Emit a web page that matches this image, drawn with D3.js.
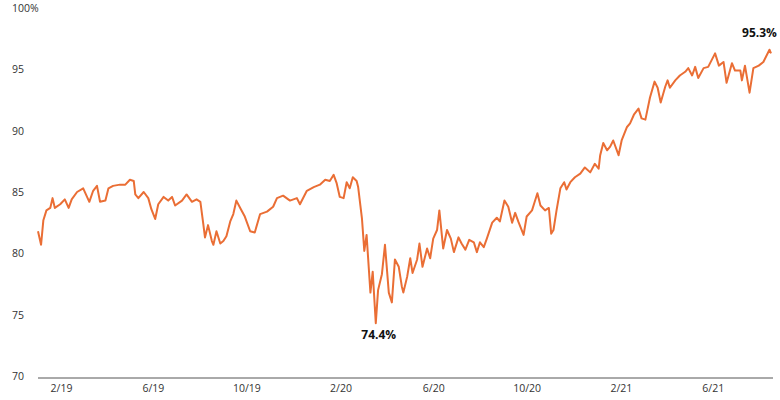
<!DOCTYPE html>
<html>
<head>
<meta charset="utf-8">
<script src="https://cdn.jsdelivr.net/npm/d3@7"></script>
<style>
  body { margin: 0; background: #fff; }
  text { font-family: "Open Sans", "Noto Sans", sans-serif; }
</style>
</head>
<body>
<div id="chart"></div>
<script>
// days since 2019-01-02, and share value (%)
const dayOffsets = [0,4,7,11,16,19,22,29,35,40,44,51,59,67,72,77,81,88,92,98,107,114,120,125,127,131,138,144,148,153,157,164,170,175,179,188,194,201,207,212,216,218,222,227,229,233,238,242,246,251,255,259,264,270,277,283,290,299,307,312,320,329,338,342,351,360,368,375,381,386,390,394,399,403,407,411,416,418,423,426,429,434,437,441,444,449,453,458,462,466,471,475,477,482,486,489,495,498,502,508,512,516,521,524,529,534,539,543,549,553,558,563,569,573,577,582,586,593,599,603,609,614,619,623,627,634,638,645,648,652,656,662,667,670,673,677,682,687,690,695,701,708,714,721,727,732,734,738,743,747,751,758,762,769,773,778,784,788,793,799,805,809,813,819,822,825,832,838,845,849,854,858,862,869,875,884,889,895,899,906,910,917,919,923,929,934,941,947,955,957];
const values = [81.8,80.7,82.7,83.5,83.7,84.5,83.7,84.0,84.4,83.7,84.4,85.0,85.3,84.2,85.1,85.5,84.2,84.3,85.3,85.5,85.6,85.6,86.0,85.9,84.8,84.5,85.0,84.5,83.6,82.8,84.0,84.6,84.3,84.6,83.9,84.3,84.8,84.2,84.4,84.2,82.3,81.3,82.3,81.0,80.7,81.8,80.8,81.0,81.4,82.6,83.2,84.3,83.7,83.0,81.8,81.7,83.2,83.4,83.8,84.5,84.7,84.3,84.5,84.0,85.1,85.4,85.6,86.0,85.9,86.4,85.7,84.6,84.5,85.8,85.3,86.2,85.9,85.4,82.8,80.2,81.5,76.8,78.5,74.3,77.0,78.3,80.7,76.8,76.0,79.5,78.9,77.3,76.8,78.1,79.6,78.4,79.5,80.8,78.9,80.4,79.6,81.2,81.9,83.5,80.4,81.9,81.2,80.1,81.3,80.8,80.3,81.1,80.9,80.1,80.9,80.5,81.2,82.5,82.9,82.6,84.3,83.8,82.5,83.3,82.6,81.5,83.0,83.5,84.1,84.9,83.9,83.5,83.7,81.6,81.9,83.5,85.3,85.8,85.2,85.8,86.2,86.5,87.0,86.6,87.3,86.9,88.0,89.0,88.4,88.7,89.2,88.0,89.2,90.3,90.6,91.3,91.8,91.0,90.9,92.7,94.0,93.5,92.3,93.6,94.1,93.5,94.1,94.5,94.8,95.1,94.5,95.2,94.3,95.1,95.2,96.3,95.3,95.6,93.9,95.5,94.9,94.9,94.1,95.3,93.1,95.1,95.3,95.6,96.6,96.3];
const yTicks = [70, 75, 80, 85, 90, 95, 100];
const xTickMonths = ["2019-02-01","2019-06-01","2019-10-01","2020-02-01","2020-06-01","2020-10-01","2021-02-01","2021-06-01"];
const notes = [{ label: "74.4%", day: 441, value: 74.3 }, { label: "95.3%", day: 955, value: 96.6 }];

const W = 780, H = 400;
const start = new Date(2019, 0, 2);
const toDate = d => d3.timeDay.offset(start, d);
const data = dayOffsets.map((d, i) => ({ date: toDate(d), v: values[i] }));

const svg = d3.select("#chart").append("svg").attr("width", W).attr("height", H);

const x = d3.scaleTime().domain([start, toDate(957)]).range([38, 771]);
const y = d3.scaleLinear().domain([70, 100]).range([376, 8]);

// y labels, no axis line
svg.selectAll(".ylab").data(yTicks).enter().append("text")
  .attr("x", 12).attr("y", d => y(d) + 4)
  .attr("font-size", 10.5).attr("fill", "#333")
  .text(d => d === 100 ? "100%" : d);

// x axis
const xAxis = svg.append("g").attr("transform", "translate(0,378)")
  .call(d3.axisBottom(x)
    .tickValues(xTickMonths.map(s => d3.timeParse("%Y-%m-%d")(s)))
    .tickFormat(d3.timeFormat("%-m/%y")).tickSize(0).tickPadding(7));
xAxis.select(".domain").attr("d", "M0,0H773").attr("stroke", "#555");
xAxis.select(".domain").attr("d", "M38,0H773");
xAxis.selectAll("text").attr("font-size", 10.5).attr("fill", "#333")
  .style("font-family", '"Open Sans", sans-serif');

svg.append("path").datum(data)
  .attr("fill", "none").attr("stroke", "#ea6e35").attr("stroke-width", 2)
  .attr("stroke-linejoin", "round")
  .attr("d", d3.line().x(d => x(d.date)).y(d => y(d.v)));

svg.selectAll(".note").data(notes).enter().append("text")
  .attr("x", (d, i) => i === 0 ? x(toDate(d.day)) + 3 : x(toDate(d.day)) - 10)
  .attr("y", (d, i) => i === 0 ? y(d.value) + 16 : y(d.value) - 13)
  .attr("text-anchor", "middle").attr("font-size", 12).attr("font-weight", "bold")
  .attr("fill", "#111").text(d => d.label);
</script>
</body>
</html>
